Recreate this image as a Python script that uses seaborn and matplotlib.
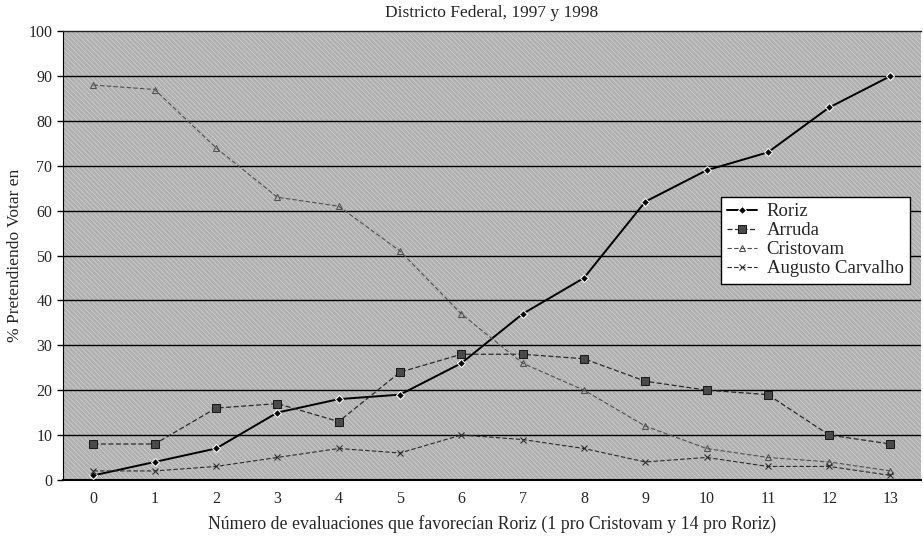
import matplotlib as mpl
mpl.use('Agg')
import matplotlib.pyplot as plt
from matplotlib.patches import Rectangle
import pandas as pd
import seaborn as sns
import numpy as np

# data
evaluaciones = list(range(14))
roriz = [1, 4, 7, 15, 18, 19, 26, 37, 45, 62, 69, 73, 83, 90]
arruda = [8, 8, 16, 17, 13, 24, 28, 28, 27, 22, 20, 19, 10, 8]
cristovam = [88, 87, 74, 63, 61, 51, 37, 26, 20, 12, 7, 5, 4, 2]
augusto = [2, 2, 3, 5, 7, 6, 10, 9, 7, 4, 5, 3, 3, 1]

sns.set_style('white')
plt.rcParams['font.family'] = ['Liberation Serif', 'DejaVu Serif']
mpl.rcParams['hatch.linewidth'] = 0.5

fig = plt.figure(figsize=(9.23, 5.38), dpi=100)
ax = fig.add_axes([0.068, 0.108, 0.93, 0.834])

# hatched grey background like the scanned print
ax.set_facecolor('#b0b0b0')
ax.add_patch(Rectangle((0, 0), 1, 1, transform=ax.transAxes, facecolor='none',
                       edgecolor='#d2d2d2', hatch='\\' * 7, lw=0, zorder=0))

for y in range(10, 100, 10):
    ax.axhline(y, color='black', lw=1.0, zorder=1)

series = [
    ('Roriz', roriz, dict(color='black', marker='D', ms=4.5, lw=1.4, ls='-', mfc='black')),
    ('Arruda', arruda, dict(color='#2a2a2a', marker='s', ms=5.5, lw=0.9, ls=(0, (4, 2)), mfc='#4a4a4a', mec='#1a1a1a')),
    ('Cristovam', cristovam, dict(color='#505050', marker='^', ms=4.5, lw=0.8, ls=(0, (4, 2)), mfc='none', mec='#505050')),
    ('Augusto Carvalho', augusto, dict(color='#2a2a2a', marker='x', ms=4.5, lw=0.8, ls=(0, (4, 2)), mec='#2a2a2a')),
]

for name, vals, kw in series:
    df = pd.DataFrame({'x': evaluaciones, 'y': vals})
    sns.lineplot(data=df, x='x', y='y', ax=ax, label=name, zorder=3, **kw)

ax.set_xlim(-0.45, 13.5)
ax.set_ylim(0, 100)
ax.set_yticks(range(0, 101, 10))
ax.set_xticks(evaluaciones)
ax.set_xticks(np.arange(-0.5, 13.6, 1), minor=True)
ax.tick_params(axis='x', which='major', length=0, labelsize=11.5, pad=8)
ax.tick_params(axis='x', which='minor', length=4, width=1, direction='out', color='black')
ax.tick_params(axis='y', length=4, width=1, direction='out', labelsize=11.5, left=True, color='black')

ax.spines['right'].set_visible(False)
ax.spines['top'].set_color('#222222')
ax.spines['top'].set_linewidth(1.0)
ax.spines['left'].set_color('black')
ax.spines['bottom'].set_color('black')
ax.spines['bottom'].set_linewidth(1.5)

ax.set_xlabel('Número de evaluaciones que favorecían Roriz (1 pro Cristovam y 14 pro Roriz)', fontsize=12.8, labelpad=6)
ax.set_ylabel('% Pretendiendo Votar en', fontsize=12.5)
ax.set_title('Districto Federal, 1997 y 1998', fontsize=12.5, pad=10)

leg = ax.legend(loc='upper right', bbox_to_anchor=(0.998, 0.652), fontsize=13.5, frameon=True,
                fancybox=False, framealpha=1, edgecolor='black', handlelength=1.6,
                handletextpad=0.5, borderpad=0.35, labelspacing=0.1)
leg.get_frame().set_linewidth(1.0)

fig.savefig('out.png', dpi=100)
